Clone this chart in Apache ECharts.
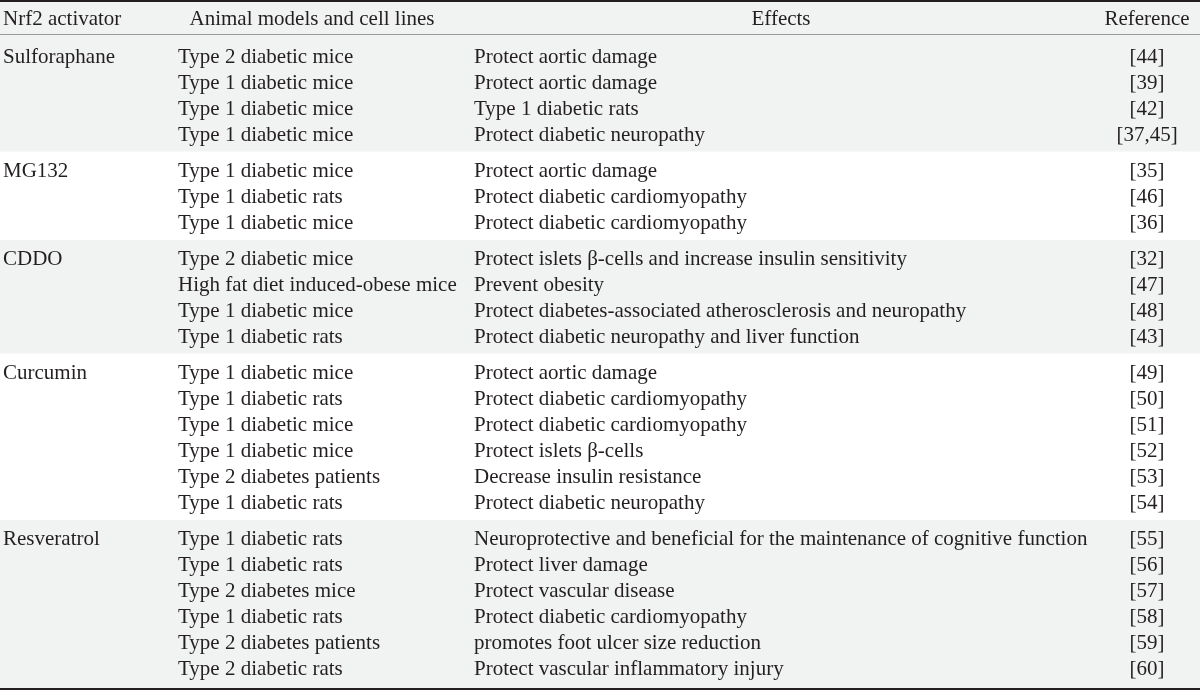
<!DOCTYPE html>
<html>
<head>
<meta charset="utf-8">
<script src="https://cdn.jsdelivr.net/npm/echarts@6/dist/echarts.min.js"></script>
<style>
  html, body { margin: 0; padding: 0; background: #fff; }
  #main { width: 1200px; height: 691px; }
</style>
</head>
<body>
<div id="main"></div>
<script>
// table content
const headers = ['Nrf2 activator', 'Animal models and cell lines', 'Effects', 'Reference'];
const activators = ['Sulforaphane', 'MG132', 'CDDO', 'Curcumin', 'Resveratrol'];
const rowGroup = [0, 0, 0, 0, 1, 1, 1, 2, 2, 2, 2, 3, 3, 3, 3, 3, 3, 4, 4, 4, 4, 4, 4];
const models = [
    'Type 2 diabetic mice', 'Type 1 diabetic mice', 'Type 1 diabetic mice', 'Type 1 diabetic mice',
    'Type 1 diabetic mice', 'Type 1 diabetic rats', 'Type 1 diabetic mice',
    'Type 2 diabetic mice', 'High fat diet induced-obese mice', 'Type 1 diabetic mice', 'Type 1 diabetic rats',
    'Type 1 diabetic mice', 'Type 1 diabetic rats', 'Type 1 diabetic mice', 'Type 1 diabetic mice', 'Type 2 diabetes patients', 'Type 1 diabetic rats',
    'Type 1 diabetic rats', 'Type 1 diabetic rats', 'Type 2 diabetes mice', 'Type 1 diabetic rats', 'Type 2 diabetes patients', 'Type 2 diabetic rats'
];
const effects = [
    'Protect aortic damage', 'Protect aortic damage', 'Type 1 diabetic rats', 'Protect diabetic neuropathy',
    'Protect aortic damage', 'Protect diabetic cardiomyopathy', 'Protect diabetic cardiomyopathy',
    'Protect islets \u03b2-cells and increase insulin sensitivity', 'Prevent obesity',
    'Protect diabetes-associated atherosclerosis and neuropathy', 'Protect diabetic neuropathy and liver function',
    'Protect aortic damage', 'Protect diabetic cardiomyopathy', 'Protect diabetic cardiomyopathy',
    'Protect islets \u03b2-cells', 'Decrease insulin resistance', 'Protect diabetic neuropathy',
    'Neuroprotective and beneficial for the maintenance of cognitive function', 'Protect liver damage',
    'Protect vascular disease', 'Protect diabetic cardiomyopathy', 'promotes foot ulcer size reduction',
    'Protect vascular inflammatory injury'
];
const refs = [
    '[44]', '[39]', '[42]', '[37,45]',
    '[35]', '[46]', '[36]',
    '[32]', '[47]', '[48]', '[43]',
    '[49]', '[50]', '[51]', '[52]', '[53]', '[54]',
    '[55]', '[56]', '[57]', '[58]', '[59]', '[60]'
];

// layout (pixel units on hidden value axes)
const W = 1200, H = 691;
const headY = 19, firstRowY = 57.5, rowH = 26, groupGap = 10;
const topRule = 1, headRule = 34.5, bottomRule = 689;
const colX = [3, 178, 474, 1147];
const headX = [3, 312, 781, 1147];
const FONT = '"Liberation Serif", "Times New Roman", serif';
const TEXT = '#231f20';
const BAND = '#f1f2f2';

const rowY = (i) => firstRowY + i * rowH + rowGroup[i] * groupGap;

// cells
let cells = [];
headers.forEach((h, c) => {
    cells.push([headX[c], headY, h, c === 0 ? 'left' : 'center']);
});
rowGroup.forEach((g, i) => {
    let y = rowY(i);
    if (i === 0 || rowGroup[i - 1] !== g) cells.push([colX[0], y, activators[g], 'left']);
    cells.push([colX[1], y, models[i], 'left']);
    cells.push([colX[2], y, effects[i], 'left']);
    cells.push([colX[3], y, refs[i], 'center']);
});

// shaded bands: header + every other activator group
let bands = [[topRule, headRule]];
activators.forEach((a, g) => {
    if (g % 2 !== 0) return;
    let idx = rowGroup.map((v, i) => v === g ? i : -1).filter(i => i >= 0);
    let top = g === 0 ? headRule : rowY(idx[0]) - 19.5;
    let bottom = g === activators.length - 1 ? bottomRule : rowY(idx[idx.length - 1]) + 16;
    bands.push([top, bottom]);
});

let rules = [[topRule, 2, '#231f20'], [headRule, 1.2, '#9a9a9a'], [bottomRule, 2, '#231f20']];

let chart = echarts.init(document.getElementById('main'), null, {renderer: 'canvas'});

let option = {
    animation: false,
    backgroundColor: '#fff',
    grid: {left: 0, right: 0, top: 0, bottom: 0},
    xAxis: {type: 'value', min: 0, max: W, show: false},
    yAxis: {type: 'value', min: 0, max: H, inverse: true, show: false},
    series: [
        {
            type: 'custom',
            data: bands,
            z: 1,
            renderItem: (params, api) => {
                let p0 = api.coord([0, api.value(0)]);
                let p1 = api.coord([W, api.value(1)]);
                return {
                    type: 'rect',
                    shape: {x: p0[0], y: p0[1], width: p1[0] - p0[0], height: p1[1] - p0[1]},
                    style: {fill: BAND}
                };
            }
        },
        {
            type: 'custom',
            data: rules,
            z: 2,
            renderItem: (params, api) => {
                let r = rules[params.dataIndex];
                let p0 = api.coord([0, r[0]]);
                let p1 = api.coord([W, r[0]]);
                return {
                    type: 'line',
                    shape: {x1: p0[0], y1: p0[1], x2: p1[0], y2: p1[1]},
                    style: {stroke: r[2], lineWidth: r[1]}
                };
            }
        },
        {
            type: 'custom',
            data: cells,
            z: 3,
            renderItem: (params, api) => {
                let c = cells[params.dataIndex];
                let p = api.coord([c[0], c[1]]);
                return {
                    type: 'text',
                    x: p[0],
                    y: p[1],
                    style: {
                        text: c[2],
                        fill: TEXT,
                        font: '21px ' + FONT,
                        align: c[3],
                        verticalAlign: 'middle'
                    }
                };
            }
        }
    ]
};

chart.setOption(option);
</script>
</body>
</html>
